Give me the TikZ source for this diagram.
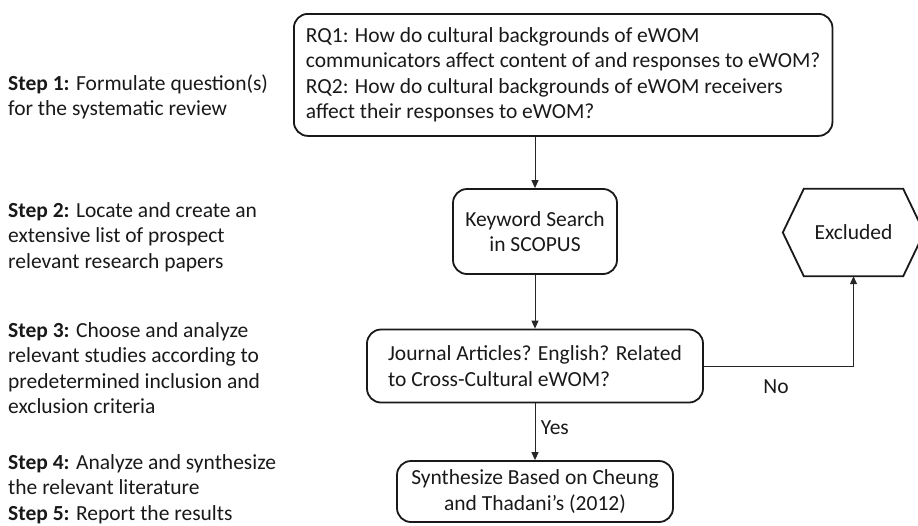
\documentclass[tikz,border=0pt]{standalone}
\usepackage{fontspec}
\setmainfont{Carlito}
\usetikzlibrary{arrows.meta,calc}
\begin{document}
\begin{tikzpicture}[x=1pt,y=-1pt,
  txt/.style={font=\fontsize{21.5}{25.5}\selectfont, text=black!90},
  box/.style={txt, draw=black!90, line width=1.8pt, rounded corners=14pt, inner sep=0pt},
  steptext/.style={txt, anchor=west, align=left, inner sep=0pt},
  arr/.style={draw=black!85, line width=1pt, -{Triangle[length=8pt,width=7pt]}},
  hexline/.style={draw=black!90, line width=1.8pt, line join=miter}
]
\useasboundingbox (0,0) rectangle (918,525);

% left-hand step descriptions
\node[steptext] (s1) at (8,97) {\textbf{Step 1:} Formulate question(s)\\for the systematic review};
\node[steptext] (s2) at (8,237) {\textbf{Step 2:} Locate and create an\\extensive list of prospect\\relevant research papers};
\node[steptext] (s3) at (8,368) {\textbf{Step 3:} Choose and analyze\\relevant studies according to\\predetermined inclusion and\\exclusion criteria};
\node[steptext] (s4) at (8,489) {\textbf{Step 4:} Analyze and synthesize\\the relevant literature\\\textbf{Step 5:} Report the results};

% flow boxes
\node[box, anchor=north west, inner xsep=12pt, minimum height=122, align=left] (rq) at (293,13)
  {RQ1: How do cultural backgrounds of eWOM\\communicators affect content of and responses to eWOM?\\RQ2: How do cultural backgrounds of eWOM receivers\\affect their responses to eWOM?};
\node[box, minimum width=164, minimum height=85, align=center] (kw) at (535,231.5)
  {Keyword Search\\in SCOPUS};
\node[box, minimum width=336, minimum height=73, align=left] (ja) at (535,366)
  {Journal Articles? English? Related\\to Cross-Cultural eWOM?};
\node[box, minimum width=276, minimum height=61, align=center] (syn) at (535,491.5)
  {Synthesize Based on Cheung\\and Thadani's (2012)};

% Excluded hexagon
\node[txt, minimum width=99, minimum height=87, inner sep=0pt] (ex) at (853.5,232.5) {Excluded};
\draw[hexline] (ex.north west) -- (ex.north east) -- ($(ex.east)+(21,0)$) -- (ex.south east)
  -- (ex.south west) -- ($(ex.west)+(-21,0)$) -- cycle;

% connectors
\draw[arr] (kw.north |- rq.south) -- (kw.north);
\draw[arr] (kw.south) -- (ja.north);
\draw[arr] (ja.south) -- node[txt, right=2pt, pos=0.42] (yes) {Yes} (syn.north);
\draw[arr] (ja.east) -| (ex.south);
\node[txt] (no) at (776,387) {No};
\end{tikzpicture}
\end{document}
